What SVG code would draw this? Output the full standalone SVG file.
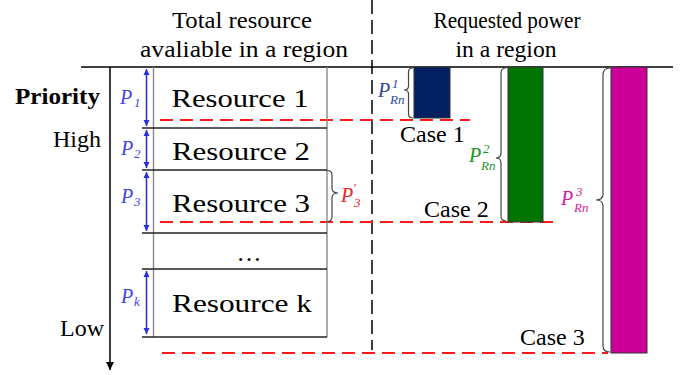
<svg xmlns="http://www.w3.org/2000/svg" width="691" height="375" viewBox="0 0 691 375" font-family="Liberation Serif, serif">
<defs>
<marker id="ab" viewBox="0 0 10 10" refX="10" refY="5" markerWidth="6" markerHeight="8" markerUnits="userSpaceOnUse" orient="auto-start-reverse">
<path d="M0,0 L10,5 L0,10 z" fill="#2a2ae0"/>
</marker>
<marker id="ak" viewBox="0 0 10 10" refX="10" refY="5" markerWidth="9" markerHeight="8" markerUnits="userSpaceOnUse" orient="auto">
<path d="M0,0 L10,5 L0,10 z" fill="#000"/>
</marker>
</defs>
<style>
text{font-family:'Liberation Serif',serif;fill:#000}
.t{font-size:24px}
.h{font-size:24px}
.r{font-size:25px;text-anchor:middle}
.pl{font-style:italic;font-size:20px}
.sb{font-size:13px}
.blue{fill:#4444e6}
.sep{stroke:#222;stroke-width:1.4;fill:none}
.edge{stroke:#888;stroke-width:1.4;fill:none}
.barr{stroke:#2a2ae0;stroke-width:1.5;marker-start:url(#ab);marker-end:url(#ab)}
.red{stroke:#ff1a1a;stroke-width:2;stroke-dasharray:13 7;fill:none}
.brace{stroke:#444;stroke-width:1.2;fill:none}
.bar{stroke:#333;stroke-width:1}
</style>

<g id="headers">
<text class="h" x="242" y="28" text-anchor="middle" textLength="140" lengthAdjust="spacingAndGlyphs">Total resource</text>
<text class="h" x="244" y="57" text-anchor="middle" textLength="208" lengthAdjust="spacingAndGlyphs">avaliable in a region</text>
<text class="h" x="507" y="28" text-anchor="middle" textLength="147" lengthAdjust="spacingAndGlyphs">Requested power</text>
<text class="h" x="506" y="57" text-anchor="middle" textLength="101" lengthAdjust="spacingAndGlyphs">in a region</text>
</g>

<g id="priority-axis">
<text x="15" y="104" style="font-size:24px;font-weight:bold" textLength="85" lengthAdjust="spacingAndGlyphs">Priority</text>
<text class="t" x="101" y="147" text-anchor="end">High</text>
<text class="t" x="104" y="336" text-anchor="end">Low</text>
<line x1="110" y1="67" x2="110" y2="370" stroke="#000" stroke-width="1.5" marker-end="url(#ak)"/>
</g>

<g id="connectors">
<line x1="81" y1="67" x2="673" y2="67" stroke="#000" stroke-width="1.5"/>
<line x1="372" y1="0" x2="372" y2="350" stroke="#000" stroke-width="1.5" stroke-dasharray="14 6"/>
<line class="red" x1="160" y1="120" x2="470" y2="120"/>
<line class="red" x1="160" y1="222" x2="555" y2="222"/>
<line class="red" x1="162" y1="353" x2="608" y2="353"/>
</g>

<g id="resource-column">
<line class="edge" x1="153.5" y1="67" x2="153.5" y2="337"/>
<line class="edge" x1="327" y1="67" x2="327" y2="337"/>
<line class="sep" x1="142" y1="128" x2="327" y2="128"/>
<line class="sep" x1="142" y1="170" x2="327" y2="170"/>
<line class="sep" x1="142" y1="233" x2="327" y2="233"/>
<line class="sep" x1="142" y1="269" x2="327" y2="269"/>
<line class="sep" x1="142" y1="337" x2="327" y2="337"/>
</g>

<g id="resource-1">
<text class="r" x="240" y="107" textLength="137" lengthAdjust="spacingAndGlyphs">Resource 1</text>
<line class="barr" x1="146.5" y1="69" x2="146.5" y2="126"/>
<text class="pl blue" x="120" y="104">P<tspan class="sb" x="134" y="107">1</tspan></text>
</g>
<g id="resource-2">
<text class="r" x="241" y="160" textLength="138" lengthAdjust="spacingAndGlyphs">Resource 2</text>
<line class="barr" x1="146.5" y1="130" x2="146.5" y2="168"/>
<text class="pl blue" x="121" y="155">P<tspan class="sb" x="134" y="158">2</tspan></text>
</g>
<g id="resource-3">
<text class="r" x="241" y="212" textLength="138" lengthAdjust="spacingAndGlyphs">Resource 3</text>
<line class="barr" x1="146.5" y1="172" x2="146.5" y2="231"/>
<text class="pl blue" x="121" y="203">P<tspan class="sb" x="134" y="206">3</tspan></text>
<path class="brace" d="M327,170.5 Q332,170.5 332,175 L332,188 Q332,193 338,193 Q332,193 332,198 L332,217 Q332,221.5 327,221.5"/>
<text class="pl" style="fill:#f02020" x="341" y="202">P<tspan class="sb" x="353" y="192">′</tspan><tspan class="sb" x="354" y="207">3</tspan></text>
</g>
<g id="resource-dots">
<text class="r" x="249" y="261">…</text>
</g>
<g id="resource-k">
<text class="r" x="242" y="312" textLength="140" lengthAdjust="spacingAndGlyphs">Resource k</text>
<line class="barr" x1="146.5" y1="271" x2="146.5" y2="334"/>
<text class="pl blue" x="121" y="303">P<tspan class="sb" x="134" y="306">k</tspan></text>
</g>

<g id="case-1">
<rect class="bar" x="414" y="67" width="36" height="51" fill="#002060"/>
<path class="brace" d="M413,68 Q408.5,68 408.5,72 L408.5,86 Q408.5,90 404,90 Q408.5,90 408.5,94 L408.5,114 Q408.5,118 413,118"/>
<text class="pl" style="fill:#2e4a9a" x="378" y="97">P<tspan class="sb" x="392" y="88">1</tspan><tspan class="sb" x="390" y="104">Rn</tspan></text>
<text class="t" x="400" y="142">Case 1</text>
</g>

<g id="case-2">
<rect class="bar" x="508" y="67" width="35" height="155" fill="#007400"/>
<path class="brace" d="M506,68 Q501,68 501,73 L501,153 Q501,158 496,158 Q501,158 501,163 L501,216 Q501,221 506,221"/>
<text class="pl" style="fill:#1e961e" x="469" y="162">P<tspan class="sb" x="483" y="153">2</tspan><tspan class="sb" x="481" y="170">Rn</tspan></text>
<text class="t" x="424" y="217">Case 2</text>
</g>

<g id="case-3">
<rect class="bar" x="611" y="67" width="36" height="286" fill="#cc0099"/>
<path class="brace" d="M610,68 Q603,68 603,75 L603,194 Q603,200 596,200 Q603,200 603,206 L603,346 Q603,352 610,352"/>
<text class="pl" style="fill:#d81b9c" x="561" y="205">P<tspan class="sb" x="576" y="196">3</tspan><tspan class="sb" x="574" y="212">Rn</tspan></text>
<text class="t" x="520" y="345">Case 3</text>
</g>
</svg>
